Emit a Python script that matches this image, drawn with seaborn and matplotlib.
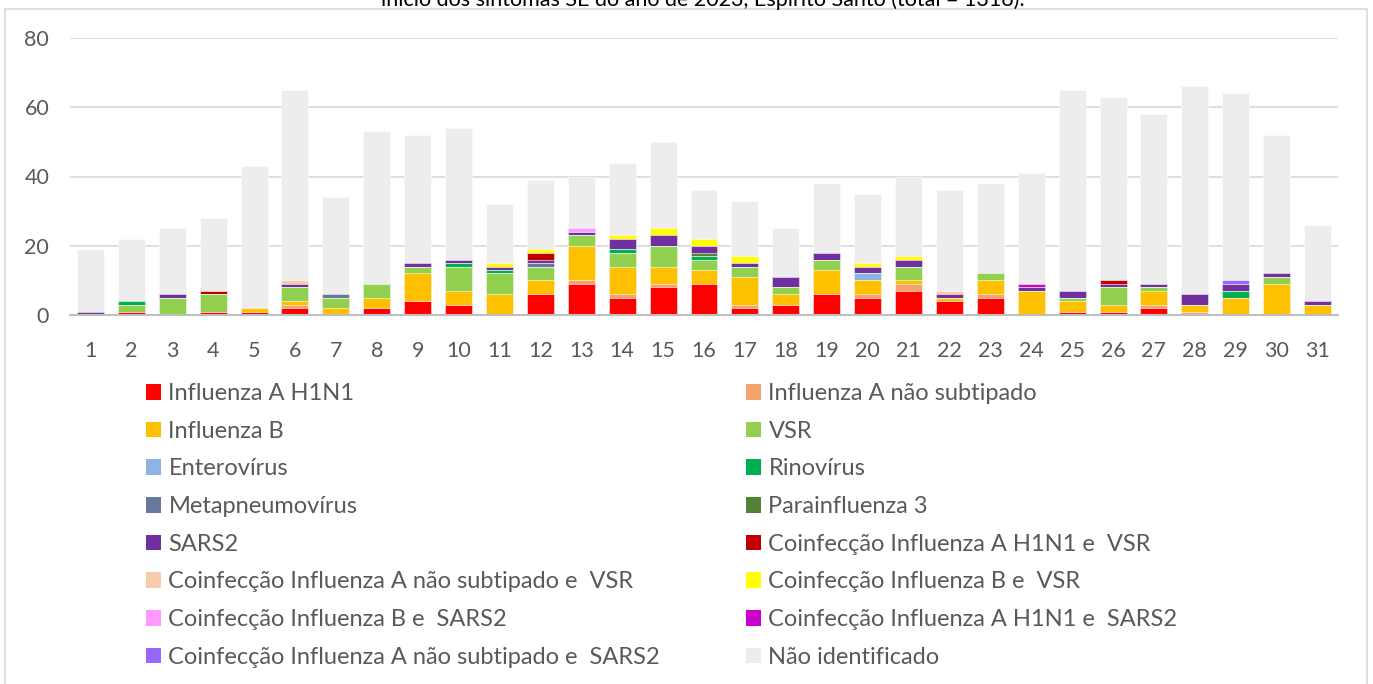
import pandas as pd
import matplotlib.pyplot as plt
import seaborn as sns
from matplotlib.patches import Patch, Rectangle

# ============================================================
# DATA
# ============================================================

weeks = [str(i) for i in range(1, 32)]

totals = [19, 22, 25, 28, 43, 65, 34, 53, 52, 54, 32, 39, 40, 44, 50, 36,
          33, 25, 38, 35, 40, 36, 38, 41, 65, 63, 58, 66, 64, 52, 26]

h1n1 = [0, 1, 0, 1, 1, 2, 0, 2, 4, 3, 0, 6, 9, 5, 8, 9,
        2, 3, 6, 5, 7, 4, 5, 0, 1, 1, 2, 0, 0, 0, 0]
a_nao_sub = [0, 0, 0, 0, 0, 1, 0, 0, 0, 0, 0, 0, 1, 1, 1, 0,
             1, 0, 0, 1, 2, 0, 1, 0, 0, 0, 1, 1, 0, 0, 0]
flu_b = [0, 0, 0, 0, 1, 1, 2, 3, 8, 4, 6, 4, 10, 8, 5, 4,
         8, 3, 7, 4, 1, 1, 4, 7, 3, 2, 4, 2, 5, 9, 3]
vsr = [0, 2, 5, 5, 0, 4, 3, 4, 2, 7, 6, 4, 3, 4, 6, 3,
       3, 2, 3, 0, 4, 0, 2, 0, 1, 5, 1, 0, 0, 2, 0]
entero = [0] * 19 + [2] + [0] * 11
rino = [0, 1, 0, 0, 0, 0, 0, 0, 0, 1, 1, 0, 0, 1, 0, 1,
        0, 0, 0, 0, 0, 0, 0, 0, 0, 0, 0, 0, 2, 0, 0]
metapneumo = [0] * 6 + [1] + [0] * 4 + [1] + [0] * 19
para3 = [0] * 15 + [1] + [0] * 15
sars2 = [1, 0, 1, 0, 0, 1, 0, 0, 1, 1, 1, 1, 1, 3, 3, 2,
         1, 3, 2, 2, 2, 1, 0, 1, 2, 1, 1, 3, 2, 1, 1]
co_h1n1_vsr = [0, 0, 0, 1, 0, 0, 0, 0, 0, 0, 0, 2, 0, 0, 0, 0,
               0, 0, 0, 0, 0, 0, 0, 0, 0, 1, 0, 0, 0, 0, 0]
co_anao_vsr = [0] * 5 + [1] + [0] * 15 + [1] + [0] * 9
co_b_vsr = [0, 0, 0, 0, 0, 0, 0, 0, 0, 0, 1, 1, 0, 1, 2, 2,
            2, 0, 0, 1, 1, 0, 0, 0, 0, 0, 0, 0, 0, 0, 0]
co_b_sars2 = [0] * 12 + [1] + [0] * 18
co_h1n1_sars2 = [0] * 23 + [1] + [0] * 7
co_anao_sars2 = [0] * 28 + [1] + [0] * 2

labels = [
    "Influenza A H1N1", "Influenza A não subtipado", "Influenza B", "VSR",
    "Enterovírus", "Rinovírus", "Metapneumovírus", "Parainfluenza 3",
    "SARS2", "Coinfecção Influenza A H1N1 e  VSR",
    "Coinfecção Influenza A não subtipado e  VSR", "Coinfecção Influenza B e  VSR",
    "Coinfecção Influenza B e  SARS2", "Coinfecção Influenza A H1N1 e  SARS2",
    "Coinfecção Influenza A não subtipado e  SARS2", "Não identificado",
]
colors = [
    "#FF0000", "#F4A46C", "#FFC000", "#92D050", "#8DB4E2", "#00B050",
    "#68779C", "#548235", "#7030A0", "#C00000", "#F8CBAD", "#FFFF00",
    "#FF99FF", "#CC00CC", "#9966FF", "#EDEDED",
]

series = [h1n1, a_nao_sub, flu_b, vsr, entero, rino, metapneumo, para3, sars2,
          co_h1n1_vsr, co_anao_vsr, co_b_vsr, co_b_sars2, co_h1n1_sars2,
          co_anao_sars2]

df = pd.DataFrame({lab: s for lab, s in zip(labels[:-1], series)}, index=weeks)
df[labels[-1]] = pd.Series(totals, index=weeks) - df.sum(axis=1)

# ============================================================
# PLOT
# ============================================================

sns.set_theme(style="white")
plt.rcParams["font.family"] = ["Lato", "DejaVu Sans"]
TXT = "#595959"

fig = plt.figure(figsize=(13.73, 6.84), dpi=100)
ax = fig.add_axes([70 / 1373, 1 - 315 / 684, 1268 / 1373, 277 / 684])

# cumulative layers, drawn from top down so each lower layer covers the rest
cum = df.cumsum(axis=1)
for lab, col in reversed(list(zip(labels, colors))):
    plot_df = pd.DataFrame({"week": weeks, "value": cum[lab].values})
    sns.barplot(data=plot_df, x="week", y="value", color=col, width=0.66,
                saturation=1, ax=ax, edgecolor="white", linewidth=0.4)

ax.set_ylim(0, 80)
ax.set_xlim(-0.5, 30.5)
ax.set_yticks([0, 20, 40, 60, 80])
ax.yaxis.grid(True, color="#d9d9d9", linewidth=1.2)
ax.set_axisbelow(True)
for s in ["top", "right", "left"]:
    ax.spines[s].set_visible(False)
ax.spines["bottom"].set_color("#bfbfbf")
ax.spines["bottom"].set_linewidth(1.5)
ax.tick_params(axis="x", length=0, pad=19, labelsize=15.5, labelcolor=TXT)
ax.tick_params(axis="y", length=0, pad=15, labelsize=15.5, labelcolor=TXT)
ax.set_xlabel("")
ax.set_ylabel("")

# legend, two columns filled row by row
handles = [Patch(facecolor=c, edgecolor="none") for c in colors]
common = dict(frameon=False, labelcolor=TXT, handletextpad=0.3,
              borderpad=0, borderaxespad=0, loc="upper left", fontsize=17,
              handlelength=0.65, handleheight=0.65, labelspacing=0.707)
fig.legend(handles[0::2], labels[0::2],
           bbox_to_anchor=(146 / 1373, 1 - 383 / 684), **common)
fig.legend(handles[1::2], labels[1::2],
           bbox_to_anchor=(746 / 1373, 1 - 383 / 684), **common)

# clipped title line and outer frame
fig.text(0.512, 1 - 6 / 684,
         "início dos sintomas SE do ano de 2023, Espírito Santo (total = 1316).",
         ha="center", va="baseline", fontsize=15.5, color="black")
fig.patches.append(Rectangle((5 / 1373, -0.01), 1362 / 1373, 1.01 - 9 / 684,
                             transform=fig.transFigure, fill=False,
                             edgecolor="#d9d9d9", linewidth=1.2))

fig.savefig("out.png", dpi=100)
